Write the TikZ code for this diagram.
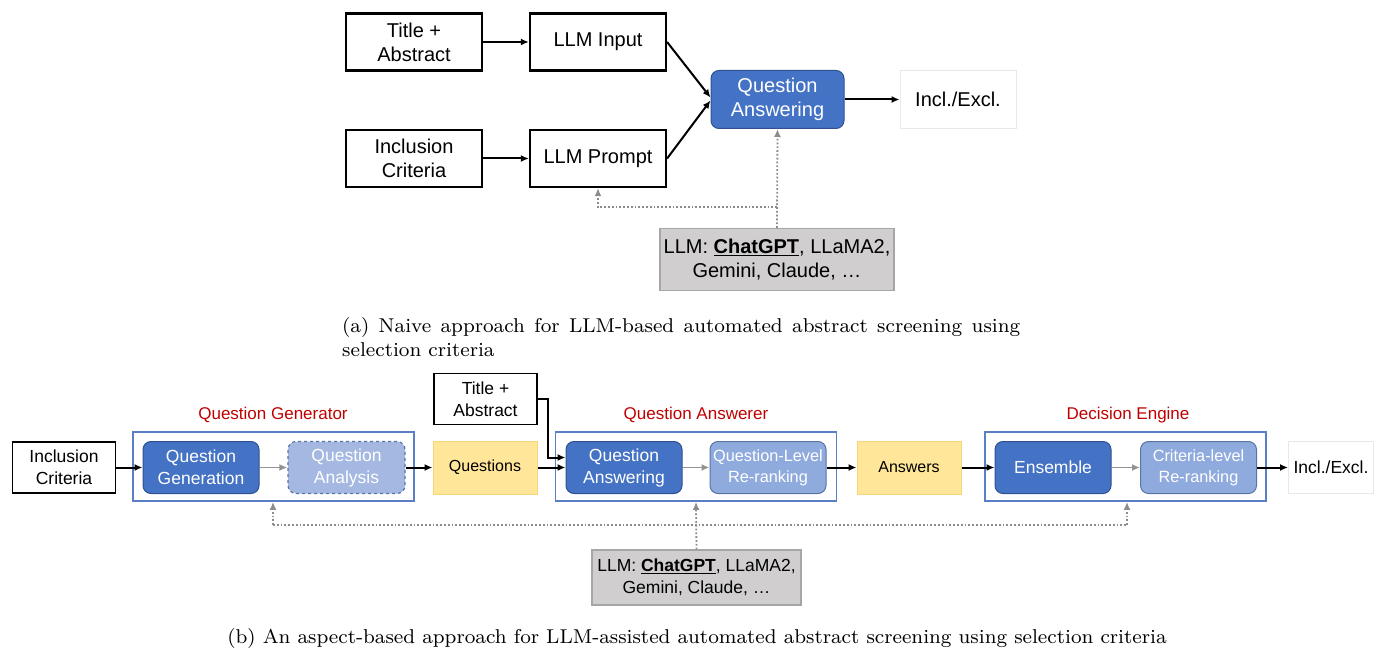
\documentclass[tikz,border=0pt]{standalone}
\usepackage{fontspec}
\newfontfamily\arial{Liberation Sans}
\usetikzlibrary{arrows.meta,calc}
\definecolor{dblue}{HTML}{4472C4}
\definecolor{dbluedraw}{HTML}{2F528F}
\definecolor{lblue}{HTML}{8FAADC}
\definecolor{llblue}{HTML}{A4B8E2}
\definecolor{cblue}{HTML}{5B7FC7}
\definecolor{yel}{HTML}{FFE699}
\definecolor{yeldraw}{HTML}{F5D77A}
\definecolor{gbox}{HTML}{D0CECE}
\definecolor{gboxdraw}{HTML}{A6A6A6}
\definecolor{redlab}{HTML}{C00000}
\definecolor{dotc}{HTML}{8C8C8C}
\newcommand{\capsmall}{\fontsize{8}{9.6}\selectfont}
\begin{document}
\begin{tikzpicture}[x=1pt,y=-1pt,
  every node/.style={inner sep=0pt,align=center},
  topfont/.style={font=\arial\fontsize{20}{24}\selectfont},
  botfont/.style={font=\arial\fontsize{17.5}{22}\selectfont},
  tbox/.style={topfont,draw=black,line width=2.2pt,minimum width=136pt,minimum height=57pt},
  bbox/.style={botfont,draw=black,line width=1.8pt,minimum width=103pt,minimum height=51pt},
  qabox/.style={topfont,rounded corners=8pt,fill=dblue,draw=dbluedraw,line width=1pt,text=white,minimum width=133pt,minimum height=58pt},
  darkbox/.style={botfont,rounded corners=8pt,fill=dblue,draw=dbluedraw,line width=1pt,text=white,minimum width=116pt,minimum height=52pt},
  lightbox/.style={font=\arial\fontsize{16.3}{21}\selectfont,rounded corners=8pt,fill=lblue,draw=dbluedraw!80,line width=1pt,text=white,minimum width=116pt,minimum height=52pt},
  dashbox/.style={botfont,rounded corners=8pt,fill=llblue,draw=dbluedraw!80,dashed,line width=1.2pt,text=white,minimum width=117pt,minimum height=52pt},
  ybox/.style={font=\arial\fontsize{16}{20}\selectfont,fill=yel,draw=yeldraw,line width=1pt,minimum width=104pt,minimum height=53pt},
  llmbox/.style={fill=gbox,draw=gboxdraw,line width=1.2pt},
  outbox/.style={draw=gray!18,line width=1pt},
  cont/.style={draw=cblue,line width=1.8pt,minimum width=281pt,minimum height=69pt},
  redlabel/.style={font=\arial\fontsize{17}{21}\selectfont,text=redlab},
  arr/.style={-{Latex[length=8pt,width=7pt]},line width=2pt,black},
  garr/.style={-{Latex[length=8pt,width=7pt]},line width=1.6pt,gray!85},
  dotarr/.style={-{Latex[length=8pt,width=7pt]},line width=1.8pt,dotc,dotted},
  dotline/.style={line width=1.8pt,dotc,dotted}
]
\useasboundingbox (0,0) rectangle (1385,650);

% ---------- (a) ----------
\node[tbox] (ta) at (414,42) {Title +\\Abstract};
\node[tbox] (li) at (598,42) {LLM Input};
\node[tbox] (ic) at (414,158.5) {Inclusion\\Criteria};
\node[tbox] (lp) at (598,158.5) {LLM Prompt};
\node[qabox] (qa) at (777.5,99.5) {Question\\Answering};
\node[outbox,topfont,minimum width=116pt,minimum height=58pt] (ie) at (958,99.5) {Incl./Excl.};
\node[llmbox,topfont,minimum width=234pt,minimum height=62pt] (llm) at (777,259.5)
  {LLM: \underline{\textbf{ChatGPT}}, LLaMA2,\\Gemini, Claude, …};

\draw[arr] (ta) -- (li);
\draw[arr] (ic) -- (lp);
\draw[arr] (li.east) -- ([yshift=2pt]qa.west);
\draw[arr] (lp.east) -- ([yshift=-1pt]qa.west);
\draw[arr] (qa) -- (ie);
\coordinate (da) at (777,207);
\draw[dotarr] (llm.north) -- (qa.south);
\draw[dotarr] (da) -| (lp.south);

\node[anchor=north west] (capa) at (342,317)
  {\scalebox{2.5}{\parbox{271.2pt}{\capsmall\noindent (a) Naive approach for LLM-based automated abstract screening using selection criteria}}};

% ---------- (b) ----------
\node[cont] (cg) at (273.5,466.5) {};
\node[cont] (ca) at (696,466.5) {};
\node[cont] (cd) at (1125.5,466.5) {};
\node[redlabel] (lg) at (273,415) {Question Generator};
\node[redlabel] (la) at (696,415) {Question Answerer};
\node[redlabel] (ld) at (1128,415) {Decision Engine};

\node[bbox] (bic) at (64,467.5) {Inclusion\\Criteria};
\node[darkbox] (qgen) at (201,467.5) {Question\\Generation};
\node[dashbox] (qan) at (346.5,467.5) {Question\\Analysis};
\node[ybox] (qs) at (485,467.5) {Questions};
\node[bbox] (bta) at (485.5,399) {Title +\\Abstract};
\node[darkbox] (bqa) at (624,467.5) {Question\\Answering};
\node[lightbox] (qlr) at (768,467.5) {Question-Level\\Re-ranking};
\node[ybox] (ans) at (909,467.5) {Answers};
\node[darkbox] (ens) at (1053,467.5) {Ensemble};
\node[lightbox] (clr) at (1198.5,467.5) {Criteria-level\\Re-ranking};
\node[outbox,botfont,minimum width=85pt,minimum height=52pt] (bie) at (1331,467.5) {Incl./Excl.};
\node[llmbox,botfont,minimum width=209pt,minimum height=55pt] (bllm) at (696.5,577.5)
  {LLM: \underline{\textbf{ChatGPT}}, LLaMA2,\\Gemini, Claude, …};

\draw[arr] (bic) -- (qgen);
\draw[garr] (qgen) -- (qan);
\draw[arr] (qan) -- (qs);
\draw[arr] (qs) -- (bqa);
\coordinate (tb) at (548,399);
\draw[arr] (bta.east) -- (tb) |- ([yshift=10pt]bqa.west);
\draw[garr] (bqa) -- (qlr);
\draw[arr] (qlr) -- (ans);
\draw[arr] (ans) -- (ens);
\draw[garr] (ens) -- (clr);
\draw[arr] (clr) -- (bie);

\coordinate (dl) at (273,525);
\coordinate (dr) at (1127,525);
\draw[dotarr] (bllm.north) -- (ca.south);
\draw[dotline] (dl) -- (dr);
\draw[dotarr] (dl) -- (dl |- cg.south);
\draw[dotarr] (dr) -- (dr |- cd.south);

\node (capb) at (697,638) {\scalebox{2.5}{\capsmall (b) An aspect-based approach for LLM-assisted automated abstract screening using selection criteria}};
\end{tikzpicture}
\end{document}
